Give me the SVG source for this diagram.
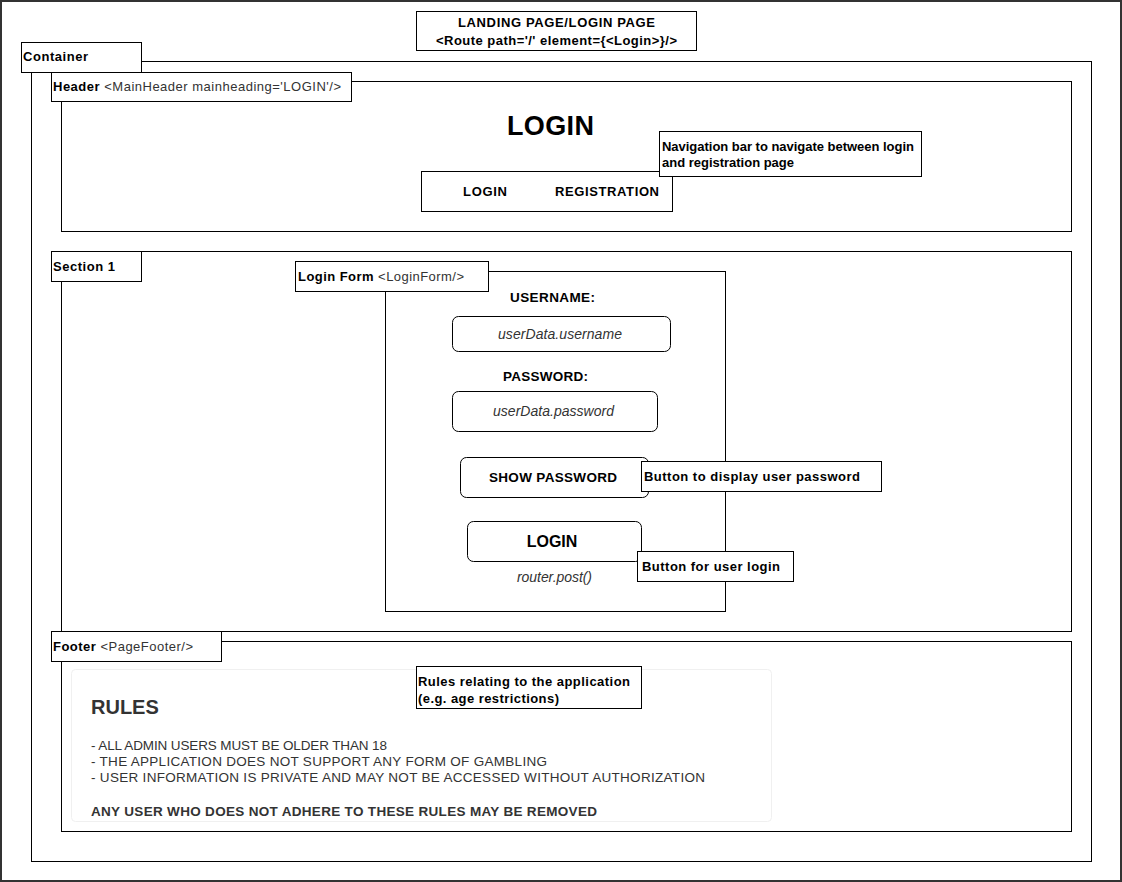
<svg xmlns="http://www.w3.org/2000/svg" width="1122" height="882" viewBox="0 0 1122 882">
<style>
text{font-family:"Liberation Sans",Arial,sans-serif;fill:#000}
.b{font-weight:bold}
.box{fill:#fff;stroke:#000;stroke-width:1}
.rb{fill:#fff;stroke:#000;stroke-width:1}
.lbl{font-size:13px}
.note{font-size:13px;font-weight:bold}
.it{font-style:italic;fill:#333;font-size:14px}
.rule{font-size:13.5px;fill:#333}
</style>
<rect x="1" y="1" width="1120" height="880" fill="#fff" stroke="#333" stroke-width="2"/>
<g id="title">
<rect class="box" x="416.5" y="11.5" width="280" height="39"/>
<text class="b" x="458" y="27" font-size="13" textLength="197">LANDING PAGE/LOGIN PAGE</text>
<text class="b" x="436" y="45" font-size="13" textLength="241">&lt;Route path='/' element={&lt;Login&gt;}/&gt;</text>
</g>
<g id="container">
<rect class="box" x="31.5" y="61.5" width="1060" height="800"/>
<rect class="box" x="21.5" y="42.5" width="120" height="30"/>
<text class="b lbl" x="23" y="61" textLength="65">Container</text>
</g>
<g id="header">
<rect class="box" x="61.5" y="81.5" width="1010" height="150"/>
<rect class="box" x="51.5" y="72.5" width="300" height="29"/>
<text class="lbl" x="53" y="91" textLength="288"><tspan class="b">Header</tspan> <tspan fill="#333">&lt;MainHeader mainheading='LOGIN'/&gt;</tspan></text>
<text class="b" x="507" y="135" font-size="27" textLength="87">LOGIN</text>
</g>
<g id="nav">
<rect class="box" x="421.5" y="171.5" width="251" height="40"/>
<text class="b" x="463" y="196" font-size="13" textLength="44">LOGIN</text>
<text class="b" x="555" y="196" font-size="13" textLength="104">REGISTRATION</text>
</g>
<g id="nav-note">
<rect class="box" x="659.5" y="131.5" width="262" height="45"/>
<text class="note" x="662" y="151" textLength="252">Navigation bar to navigate between login</text>
<text class="note" x="662" y="167" textLength="132">and registration page</text>
</g>
<g id="section1">
<rect class="box" x="61.5" y="251.5" width="1010" height="380"/>
<rect class="box" x="51.5" y="251.5" width="90" height="30"/>
<text class="b lbl" x="53" y="271" textLength="62">Section 1</text>
</g>
<g id="loginform">
<rect class="box" x="385.5" y="271.5" width="340" height="340"/>
<rect class="box" x="295.5" y="261.5" width="193" height="30"/>
<text class="lbl" x="298" y="281" textLength="166"><tspan class="b">Login Form</tspan> <tspan fill="#333">&lt;LoginForm/&gt;</tspan></text>
<text class="b" x="510" y="302" font-size="13.5" textLength="85">USERNAME:</text>
<rect class="rb" x="452.5" y="316.5" width="218" height="35" rx="6"/>
<text class="it" x="498" y="339" textLength="124">userData.username</text>
<text class="b" x="503" y="381" font-size="13.5" textLength="85">PASSWORD:</text>
<rect class="rb" x="452.5" y="391.5" width="205" height="40" rx="6"/>
<text class="it" x="493" y="416" textLength="121">userData.password</text>
</g>
<g id="showpw">
<rect class="rb" x="460.5" y="457.5" width="188" height="40" rx="6"/>
<text class="b" x="489" y="482" font-size="13.5" textLength="128">SHOW PASSWORD</text>
</g>
<g id="showpw-note">
<rect class="box" x="641.5" y="461.5" width="240" height="30"/>
<text class="note" x="644" y="481" font-size="13.5" textLength="216">Button to display user password</text>
</g>
<g id="loginbtn">
<rect class="rb" x="467.5" y="521.5" width="174" height="40" rx="6"/>
<text class="b" x="552" y="547" font-size="16" text-anchor="middle">LOGIN</text>
<text class="it" x="517" y="582" textLength="75">router.post()</text>
</g>
<g id="loginbtn-note">
<rect class="box" x="637.5" y="551.5" width="156" height="30"/>
<text class="note" x="642" y="571" font-size="13.5" textLength="138">Button for user login</text>
</g>
<g id="footer">
<rect class="box" x="61.5" y="641.5" width="1010" height="190"/>
<rect class="box" x="51.5" y="631.5" width="170" height="30"/>
<text class="lbl" x="53" y="651" textLength="140"><tspan class="b">Footer</tspan> <tspan fill="#333">&lt;PageFooter/&gt;</tspan></text>
</g>
<g id="rules">
<rect x="71.5" y="669.5" width="700" height="152" rx="4" fill="#fff" stroke="#f0f0f0"/>
<text class="b" x="91" y="714" font-size="20" style="fill:#333">RULES</text>
<text class="rule" x="91" y="750" textLength="296">- ALL ADMIN USERS MUST BE OLDER THAN 18</text>
<text class="rule" x="91" y="766" textLength="456">- THE APPLICATION DOES NOT SUPPORT ANY FORM OF GAMBLING</text>
<text class="rule" x="91" y="782" textLength="614">- USER INFORMATION IS PRIVATE AND MAY NOT BE ACCESSED WITHOUT AUTHORIZATION</text>
<text class="b" x="91" y="816" font-size="13.5" style="fill:#333" textLength="506">ANY USER WHO DOES NOT ADHERE TO THESE RULES MAY BE REMOVED</text>
</g>
<g id="rules-note">
<rect class="box" x="416.5" y="666.5" width="225" height="42"/>
<text class="note" x="418" y="686" font-size="13.5" textLength="212">Rules relating to the application</text>
<text class="note" x="418" y="703" font-size="13.5" textLength="141">(e.g. age restrictions)</text>
</g>
<g id="connectors"></g>
</svg>
